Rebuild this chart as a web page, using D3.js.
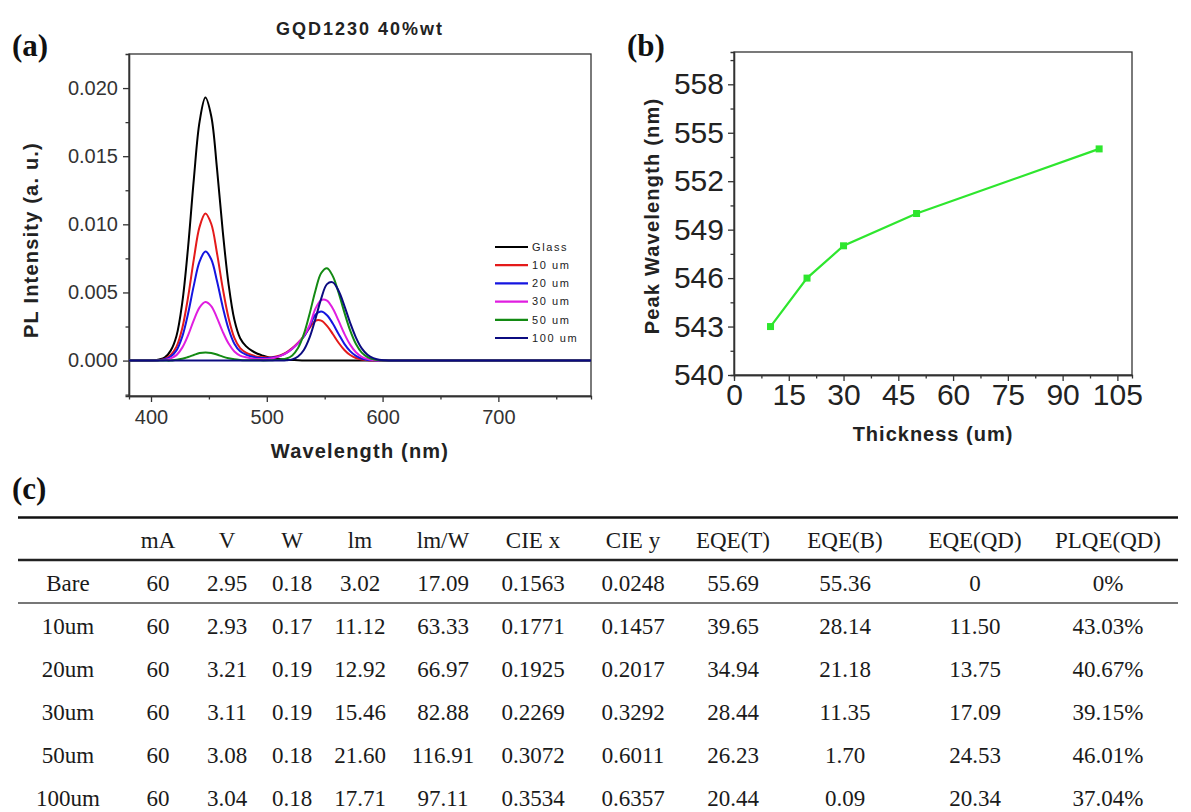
<!DOCTYPE html>
<html><head><meta charset="utf-8">
<script src="https://cdn.jsdelivr.net/npm/d3@7"></script>
<style>html,body{margin:0;padding:0;background:#fff;} svg{display:block;}</style>
</head><body>
<svg id="c" width="1191" height="812"></svg>
<script>
// ---------- Panel (a) data: PL spectra ----------
const wavelengths = [377,382,387,392,397,402,407,412,417,422,427,432,437,442,447,452,457,462,467,472,477,482,487,492,497,502,507,512,517,522,527,532,537,542,547,552,557,562,567,572,577,582,587,592,597,602,607,612,617,622,640,700,780];
const glass = [0,0,0,0,0.00001,0.00002,0.00008,0.00023,0.00073,0.00181,0.00425,0.0083,0.01332,0.01756,0.0193,0.01795,0.01409,0.00946,0.0056,0.00299,0.00164,0.00106,0.00073,0.0005,0.00035,0.00023,0.00015,0.0001,0.00006,0.00004,0.00002,0.00001,0,0,0,0,0,0,0,0,0,0,0,0,0,0,0,0,0,0,0,0,0];
const um10 = [0,0,0,0,0,0.00001,0.00004,0.00013,0.00041,0.00102,0.00238,0.00464,0.00745,0.00983,0.0108,0.01004,0.00788,0.00529,0.00313,0.00167,0.00092,0.00059,0.00041,0.00028,0.00024,0.00023,0.00029,0.0004,0.00061,0.00092,0.00131,0.0018,0.0024,0.00292,0.00293,0.00255,0.00195,0.00131,0.00078,0.00041,0.00019,0.00008,0.00003,0.00001,0,0,0,0,0,0,0,0,0];
const um20 = [0,0,0,0,0,0.00001,0.00003,0.0001,0.0003,0.00075,0.00176,0.00344,0.00552,0.00728,0.008,0.00744,0.00584,0.00392,0.00232,0.00124,0.00068,0.00044,0.0003,0.00021,0.00018,0.00019,0.00024,0.00036,0.00056,0.00087,0.00126,0.00175,0.0025,0.00336,0.0036,0.00333,0.00272,0.00195,0.00123,0.00069,0.00034,0.00014,0.00005,0.00002,0.00001,0,0,0,0,0,0,0,0];
const um30 = [0,0,0,0,0,0,0.00002,0.00005,0.00016,0.0004,0.00095,0.00185,0.00297,0.00391,0.0043,0.004,0.00314,0.00211,0.00125,0.00067,0.00037,0.00024,0.00016,0.00011,0.00012,0.00014,0.00021,0.00035,0.00056,0.00087,0.00128,0.0018,0.0026,0.0038,0.00444,0.0044,0.00382,0.00293,0.00197,0.00117,0.00061,0.00028,0.00011,0.00004,0.00001,0,0,0,0,0,0,0,0];
const um50 = [0,0,0,0,0,0,0,0,0,0.00006,0.00013,0.00026,0.00041,0.00055,0.0006,0.00056,0.00044,0.00029,0.00017,0.00009,0.00005,0.00003,0.00002,0.00002,0.00001,0.00002,0.00004,0.00008,0.00015,0.00038,0.00092,0.00194,0.00344,0.00513,0.00643,0.00678,0.0062,0.00499,0.00354,0.00221,0.00121,0.00058,0.00025,0.00009,0.00003,0.00001,0,0,0,0,0,0,0];
const um100 = [0,0,0,0,0,0,0,0,0,0,0,0,0,0,0,0,0,0,0,0,0,0,0,0,0,0,0,0,0.00002,0.00009,0.0003,0.00078,0.0017,0.00306,0.00455,0.00561,0.00574,0.00512,0.00402,0.00277,0.00169,0.0009,0.00043,0.00018,0.00006,0.00002,0.00001,0,0,0,0,0,0];
const seriesNames = ["Glass","10 um","20 um","30 um","50 um","100 um"];
const seriesColors = ["#000000","#e41a1a","#1515e0","#e01ee0","#138a13","#0b0b80"];
const spectraTicksX = [400,500,600,700];
const spectraTicksY = [0,0.005,0.010,0.015,0.020];

// ---------- Panel (b) data ----------
const thickness = [10,20,30,50,100];
const peakWavelength = [543,546,548,550,554];
const thickTicks = [0,15,30,45,60,75,90,105];
const peakTicks = [540,543,546,549,552,555,558];

// ---------- Panel (c) table data ----------
const tableHeader = ["","mA","V","W","lm","lm/W","CIE x","CIE y","EQE(T)","EQE(B)","EQE(QD)","PLQE(QD)"];
const rowLabels = ["Bare","10um","20um","30um","50um","100um"];
const colMA   = ["60","60","60","60","60","60"];
const colV    = ["2.95","2.93","3.21","3.11","3.08","3.04"];
const colW    = ["0.18","0.17","0.19","0.19","0.18","0.18"];
const colLm   = ["3.02","11.12","12.92","15.46","21.60","17.71"];
const colLmW  = ["17.09","63.33","66.97","82.88","116.91","97.11"];
const colCIEx = ["0.1563","0.1771","0.1925","0.2269","0.3072","0.3534"];
const colCIEy = ["0.0248","0.1457","0.2017","0.3292","0.6011","0.6357"];
const colEQET = ["55.69","39.65","34.94","28.44","26.23","20.44"];
const colEQEB = ["55.36","28.14","21.18","11.35","1.70","0.09"];
const colEQEQD= ["0","11.50","13.75","17.09","24.53","20.34"];
const colPLQE = ["0%","43.03%","40.67%","39.15%","46.01%","37.04%"];

const svg = d3.select("#c");
svg.append("rect").attr("width",1191).attr("height",812).attr("fill","#fff");
const SANS = "'Liberation Sans', Arial, sans-serif";
const SERIF = "'Liberation Serif', 'Times New Roman', serif";
const AX = "#333";

function styleAxis(g){
  g.selectAll("path").attr("stroke",AX).attr("stroke-width",1.3);
  g.selectAll("line").attr("stroke",AX).attr("stroke-width",1.3);
}

// ================= Panel (a) =================
{
  const L=129,T=54,R=591,B=396;
  const x = d3.scaleLinear().domain([381,780]).range([L,R]);
  const y = d3.scaleLinear().domain([-0.0026,0.0225]).range([B,T]);
  const g = svg.append("g");
  g.append("clipPath").attr("id","clipA").append("rect").attr("x",L).attr("y",T).attr("width",R-L).attr("height",B-T);
  const mx = g.append("g").attr("transform",`translate(0,${B})`)
    .call(d3.axisBottom(x).tickValues([450,550,650,750]).tickSize(3.5).tickFormat(""));
  styleAxis(mx);
  const my = g.append("g").attr("transform",`translate(${L},0)`)
    .call(d3.axisLeft(y).tickValues([-0.0025,0.0025,0.0075,0.0125,0.0175]).tickSize(3.5).tickFormat(""));
  styleAxis(my);
  const ax = g.append("g").attr("transform",`translate(0,${B})`)
    .call(d3.axisBottom(x).tickValues(spectraTicksX).tickSize(6).tickSizeOuter(0).tickPadding(8));
  styleAxis(ax);
  ax.selectAll("text").attr("font-family",SANS).attr("font-size",20).attr("fill","#333");
  const ay = g.append("g").attr("transform",`translate(${L},0)`)
    .call(d3.axisLeft(y).tickValues(spectraTicksY).tickFormat(d3.format(".3f")).tickSize(6).tickSizeOuter(0).tickPadding(5));
  styleAxis(ay);
  ay.selectAll("text").attr("font-family",SANS).attr("font-size",20).attr("fill","#333");
  g.append("rect").attr("x",L).attr("y",T).attr("width",R-L).attr("height",B-T)
    .attr("fill","none").attr("stroke",AX).attr("stroke-width",1.3);

  const allSeries = [glass,um10,um20,um30,um50,um100];
  const line = d3.line().x((d,i)=>x(wavelengths[i])).y(d=>y(d)).curve(d3.curveCatmullRom.alpha(0.5));
  const lg = g.append("g").attr("clip-path","url(#clipA)");
  allSeries.forEach((s,k)=>{
    lg.append("path").attr("d",line(s)).attr("fill","none")
      .attr("stroke",seriesColors[k]).attr("stroke-width",2).attr("stroke-linejoin","round");
  });
  const leg = g.append("g");
  seriesNames.forEach((n,k)=>{
    const yy = 247 + k*18.2;
    leg.append("line").attr("x1",495).attr("x2",528).attr("y1",yy).attr("y2",yy)
      .attr("stroke",seriesColors[k]).attr("stroke-width",2.2);
    leg.append("text").attr("x",532).attr("y",yy).attr("dy","0.35em").text(n)
      .attr("font-family",SANS).attr("font-size",11).attr("letter-spacing","1.6px").attr("fill","#222");
  });
  svg.append("text").attr("x",(L+R)/2).attr("y",35).attr("text-anchor","middle").text("GQD1230 40%wt")
    .attr("font-family",SANS).attr("font-weight","bold").attr("font-size",18).attr("letter-spacing","2px").attr("fill","#222");
  svg.append("text").attr("x",(L+R)/2).attr("y",458).attr("text-anchor","middle").text("Wavelength (nm)")
    .attr("font-family",SANS).attr("font-weight","bold").attr("font-size",20).attr("letter-spacing","1.2px").attr("fill","#222");
  svg.append("text").attr("transform","translate(38,240) rotate(-90)").attr("text-anchor","middle").text("PL Intensity (a. u.)")
    .attr("font-family",SANS).attr("font-weight","bold").attr("font-size",20).attr("letter-spacing","1.2px").attr("fill","#222");
  svg.append("text").attr("x",12).attr("y",56).text("(a)")
    .attr("font-family",SERIF).attr("font-weight","bold").attr("font-size",31).attr("fill","#111");
}

// ================= Panel (b) =================
{
  const L=734,T=52,R=1132,B=375;
  const x = d3.scaleLinear().domain([0,109]).range([L,R]);
  const y = d3.scaleLinear().domain([540,560]).range([B,T]);
  const g = svg.append("g");
  const mx = g.append("g").attr("transform",`translate(0,${B})`)
    .call(d3.axisBottom(x).tickValues(d3.range(7.5,109,15)).tickSize(3.5).tickFormat(""));
  styleAxis(mx);
  const my = g.append("g").attr("transform",`translate(${L},0)`)
    .call(d3.axisLeft(y).tickValues(d3.range(541.5,560,3)).tickSize(3.5).tickFormat(""));
  styleAxis(my);
  const ax = g.append("g").attr("transform",`translate(0,${B})`)
    .call(d3.axisBottom(x).tickValues(thickTicks).tickSize(6).tickSizeOuter(0).tickPadding(3));
  styleAxis(ax);
  ax.selectAll("text").attr("font-family",SANS).attr("font-size",30).attr("fill","#222");
  const ay = g.append("g").attr("transform",`translate(${L},0)`)
    .call(d3.axisLeft(y).tickValues(peakTicks).tickSize(6).tickSizeOuter(0).tickPadding(4));
  styleAxis(ay);
  ay.selectAll("text").attr("font-family",SANS).attr("font-size",30).attr("fill","#222");
  g.append("rect").attr("x",L).attr("y",T).attr("width",R-L).attr("height",B-T)
    .attr("fill","none").attr("stroke",AX).attr("stroke-width",1.3);
  const line = d3.line().x((d,i)=>x(thickness[i])).y(d=>y(d));
  g.append("path").attr("d",line(peakWavelength)).attr("fill","none").attr("stroke","#2ee62e").attr("stroke-width",2.2);
  g.selectAll("rect.pt").data(peakWavelength).enter().append("rect").attr("class","pt")
    .attr("x",(d,i)=>x(thickness[i])-3.5).attr("y",d=>y(d)-3.5).attr("width",7).attr("height",7).attr("fill","#2ee62e");
  svg.append("text").attr("x",(L+R)/2).attr("y",441).attr("text-anchor","middle").text("Thickness (um)")
    .attr("font-family",SANS).attr("font-weight","bold").attr("font-size",20).attr("letter-spacing","1px").attr("fill","#222");
  svg.append("text").attr("transform","translate(659,216) rotate(-90)").attr("text-anchor","middle").text("Peak Wavelength (nm)")
    .attr("font-family",SANS).attr("font-weight","bold").attr("font-size",20).attr("letter-spacing","1.2px").attr("fill","#222");
  svg.append("text").attr("x",627).attr("y",56).text("(b)")
    .attr("font-family",SERIF).attr("font-weight","bold").attr("font-size",31).attr("fill","#111");
}

// ================= Panel (c) table =================
{
  const colX = [68,158,227,292,360,443,533,633,733,845,975,1108];
  const headerY = 540;
  const rowY = [583,626,669,712,755,798];
  const columns = [rowLabels,colMA,colV,colW,colLm,colLmW,colCIEx,colCIEy,colEQET,colEQEB,colEQEQD,colPLQE];
  const g = svg.append("g").attr("font-family",SERIF).attr("font-size",23).attr("fill","#1a1a1a");
  svg.append("text").attr("x",12).attr("y",499).text("(c)")
    .attr("font-family",SERIF).attr("font-weight","bold").attr("font-size",31).attr("fill","#111");
  svg.append("line").attr("x1",18).attr("x2",1178).attr("y1",517.5).attr("y2",517.5).attr("stroke","#111").attr("stroke-width",2.4);
  svg.append("line").attr("x1",18).attr("x2",1178).attr("y1",560).attr("y2",560).attr("stroke","#222").attr("stroke-width",2.4);
  svg.append("line").attr("x1",18).attr("x2",1178).attr("y1",603).attr("y2",603).attr("stroke","#777").attr("stroke-width",1.8);
  tableHeader.forEach((h,j)=>{
    g.append("text").attr("x",colX[j]).attr("y",headerY).attr("dy","0.35em").attr("text-anchor","middle").text(h);
  });
  columns.forEach((col,j)=>{
    col.forEach((v,i)=>{
      g.append("text").attr("x",colX[j]).attr("y",rowY[i]).attr("dy","0.35em").attr("text-anchor","middle").text(v);
    });
  });
}
</script>
</body></html>
